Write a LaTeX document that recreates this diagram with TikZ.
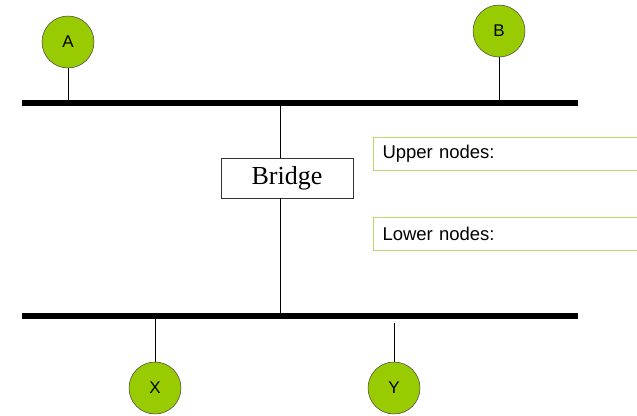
\documentclass[tikz,border=0pt]{standalone}
\usepackage{fontspec}
\setmainfont{Liberation Sans}
\newfontfamily\serifface{Liberation Serif}
\begin{document}
\begin{tikzpicture}[x=1pt,y=-1pt,
  station/.style={circle,draw=black!75,line width=0.5pt,fill={rgb,255:red,153;green,204;blue,0},minimum size=52pt,inner sep=0pt,font=\fontsize{17}{17}\selectfont},
  bus/.style={line width=6pt},
  wire/.style={line width=0.8pt},
  infobox/.style={draw={rgb,255:red,181;green,217;blue,106},line width=1pt,anchor=north west,minimum height=33pt,minimum width=280pt,inner sep=0pt,text width=270pt,font=\fontsize{18.5}{18.5}\selectfont}]
\useasboundingbox (0,0) rectangle (637,415);
\clip (0,0) rectangle (637,415);
% buses
\coordinate (t1) at (22,103);
\coordinate (t2) at (578,103);
\coordinate (b1) at (22,316);
\coordinate (b2) at (578,316);
\draw[bus] (t1) -- (t2);
\draw[bus] (b1) -- (b2);
% stations
\node[station] (A) at (68,42) {A};
\node[station] (B) at (499,31) {B};
\node[station] (X) at (155,388) {X};
\node[station] (Y) at (394,388) {Y};
\coordinate (Atap) at (68,103);
\coordinate (Btap) at (499,103);
\coordinate (Xtap) at (155,316);
\coordinate (Ytap) at (394,323);
\draw[wire] (A) -- (Atap);
\draw[wire] (B) -- (Btap);
\draw[wire] (Xtap) -- (X);
\draw[wire] (Ytap) -- (Y);
% bridge
\node[draw=black!80,line width=0.8pt,minimum width=132pt,minimum height=40pt,inner sep=0pt,font=\serifface\fontsize{26}{26}\selectfont] (br) at (287,178) {\raisebox{-2pt}{Bridge}};
\coordinate (brt) at (280,103);
\coordinate (brb) at (280,316);
\draw[wire] (brt) -- (br.north -| brt);
\draw[wire] (br.south -| brb) -- (brb);
% info boxes
\node[infobox] (up) at (373,137) {\hspace*{4pt}\raisebox{-1.5pt}{Upper nodes:}};
\node[infobox] (lo) at (373,217) {\hspace*{4pt}\raisebox{-1.5pt}{Lower nodes:}};
\end{tikzpicture}
\end{document}
